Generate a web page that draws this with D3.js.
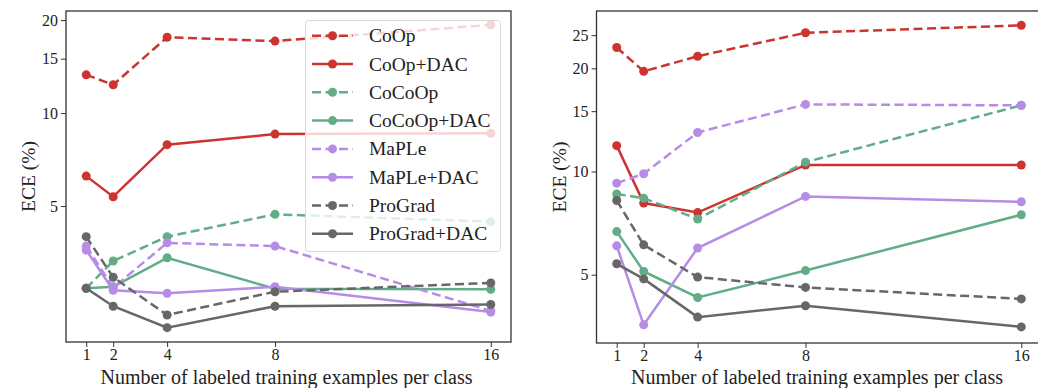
<!DOCTYPE html>
<html>
<head>
<meta charset="utf-8">
<script src="https://cdn.jsdelivr.net/npm/d3@7"></script>
<style>
  body { margin: 0; background: #fff; }
  svg, svg text { font-family: "Liberation Serif", "Times New Roman", serif; }
  .tick text { font-size: 16px; fill: #222; }
</style>
</head>
<body>
<div id="chart"></div>
<script>
// DATA
var shots = [1, 2, 4, 8, 16];
var methods = ["CoOp", "CoOp+DAC", "CoCoOp", "CoCoOp+DAC", "MaPLe", "MaPLe+DAC", "ProGrad", "ProGrad+DAC"];

// left panel ECE (%)
var leftCoOp       = [13.3, 12.35, 17.6, 17.1, 19.3];
var leftCoOpDAC    = [6.25, 5.36, 7.9, 8.55, 8.6];
var leftCoCoOp     = [2.71, 3.32, 3.98, 4.7, 4.45];
var leftCoCoOpDAC  = [2.71, 2.74, 3.40, 2.70, 2.69];
var leftMaPLe      = [3.71, 2.72, 3.8, 3.71, 2.29];
var leftMaPLeDAC   = [3.6, 2.67, 2.61, 2.74, 2.27];
var leftProGrad    = [3.98, 2.94, 2.22, 2.64, 2.82];
var leftProGradDAC = [2.71, 2.37, 2.02, 2.37, 2.40];

// right panel ECE (%)
var rightCoOp       = [23.0, 19.6, 21.7, 25.4, 26.7];
var rightCoOpDAC    = [11.9, 8.09, 7.59, 10.45, 10.45];
var rightCoCoOp     = [8.6, 8.36, 7.27, 10.65, 15.6];
var rightCoCoOpDAC  = [6.68, 5.11, 4.29, 5.14, 7.48];
var rightMaPLe      = [9.25, 9.85, 13.0, 15.7, 15.6];
var rightMaPLeDAC   = [6.07, 3.57, 5.98, 8.46, 8.16];
var rightProGrad    = [8.23, 6.11, 4.92, 4.59, 4.25];
var rightProGradDAC = [5.38, 4.86, 3.76, 4.06, 3.52];

var leftTicks = [5, 10, 15, 20];
var rightTicks = [5, 10, 15, 20, 25];

// SET UP
var colors = ["#cd3430", "#cd3430", "#62ad88", "#62ad88", "#b68ce6", "#b68ce6", "#676767", "#676767"];
var dashed = [true, false, true, false, true, false, true, false];
var serif = "'Liberation Serif', 'Times New Roman', serif";

var svg = d3.select("#chart").append("svg")
    .attr("width", 1038)
    .attr("height", 388);

// draw one panel
function drawPanel(box, series, yDomain, yTicks, withLegend) {
    var x = d3.scaleLinear().domain([0.25, 16.75]).range([box.left, box.right]);
    var y = d3.scaleLog().domain(yDomain).range([box.bottom, box.top]);

    // axes
    svg.append("g")
        .attr("transform", "translate(0," + box.bottom + ")")
        .attr("font-family", serif)
        .call(d3.axisBottom(x).tickValues(shots).tickSize(5).tickPadding(2).tickFormat(d3.format("d")))
        .call(g => g.select(".domain").remove());
    svg.append("g")
        .attr("transform", "translate(" + box.left + ",0)")
        .attr("font-family", serif)
        .call(d3.axisLeft(y).tickValues(yTicks).tickSize(5).tickPadding(3).tickFormat(d3.format("d")))
        .call(g => g.select(".domain").remove());
    svg.selectAll(".tick line").attr("stroke", "#333").attr("stroke-width", 1);
    svg.selectAll(".tick text").attr("font-family", serif);

    // frame
    svg.append("rect")
        .attr("x", box.left).attr("y", box.top)
        .attr("width", box.right - box.left).attr("height", box.bottom - box.top)
        .attr("fill", "none").attr("stroke", "#333").attr("stroke-width", 1.3);

    var line = d3.line()
        .x((d, i) => x(shots[i]))
        .y(d => y(d));

    series.forEach(function(vals, k) {
        svg.append("path")
            .datum(vals)
            .attr("d", line)
            .attr("fill", "none")
            .attr("stroke", colors[k])
            .attr("stroke-width", 2.5)
            .attr("stroke-dasharray", dashed[k] ? "9,4.5" : null);
        svg.append("g")
            .selectAll("circle")
            .data(vals)
            .join("circle")
            .attr("cx", (d, i) => x(shots[i]))
            .attr("cy", d => y(d))
            .attr("r", 4.5)
            .attr("fill", colors[k]);
    });

    // axis labels
    svg.append("text")
        .attr("x", (box.left + box.right) / 2 - 2)
        .attr("y", 384)
        .attr("text-anchor", "middle")
        .attr("font-family", serif)
        .attr("font-size", "20px")
        .attr("fill", "#222")
        .text("Number of labeled training examples per class");
    svg.append("text")
        .attr("transform", "translate(" + (box.left - 31) + "," + ((box.top + box.bottom) / 2) + ") rotate(-90)")
        .attr("text-anchor", "middle")
        .attr("font-family", serif)
        .attr("font-size", "19.5px")
        .attr("fill", "#222")
        .text("ECE (%)");

    if (withLegend) {
        var lg = svg.append("g");
        lg.append("rect")
            .attr("x", 305.5).attr("y", 20.5)
            .attr("width", 195).attr("height", 231)
            .attr("rx", 3)
            .attr("fill", "#fff").attr("fill-opacity", 0.8)
            .attr("stroke", "#d8d8d8").attr("stroke-width", 1);
        methods.forEach(function(name, k) {
            var cy = 35.7 + k * 28.3;
            lg.append("line")
                .attr("x1", 312).attr("x2", 353)
                .attr("y1", cy).attr("y2", cy)
                .attr("stroke", colors[k])
                .attr("stroke-width", 2.5)
                .attr("stroke-dasharray", dashed[k] ? "9,4.5" : null);
            lg.append("circle")
                .attr("cx", 332.5).attr("cy", cy).attr("r", 4.5)
                .attr("fill", colors[k]);
            lg.append("text")
                .attr("x", 369).attr("y", cy + 6.5)
                .attr("font-family", serif)
                .attr("font-size", "19.5px")
                .attr("fill", "#222")
                .text(name);
        });
    }
}

drawPanel({left: 66, right: 511, top: 11, bottom: 342},
    [leftCoOp, leftCoOpDAC, leftCoCoOp, leftCoCoOpDAC, leftMaPLe, leftMaPLeDAC, leftProGrad, leftProGradDAC],
    [1.815, 21.4], leftTicks, true);

drawPanel({left: 596.5, right: 1041.5, top: 11, bottom: 343},
    [rightCoOp, rightCoOpDAC, rightCoCoOp, rightCoCoOpDAC, rightMaPLe, rightMaPLeDAC, rightProGrad, rightProGradDAC],
    [3.16, 29.4], rightTicks, false);
</script>
</body>
</html>
